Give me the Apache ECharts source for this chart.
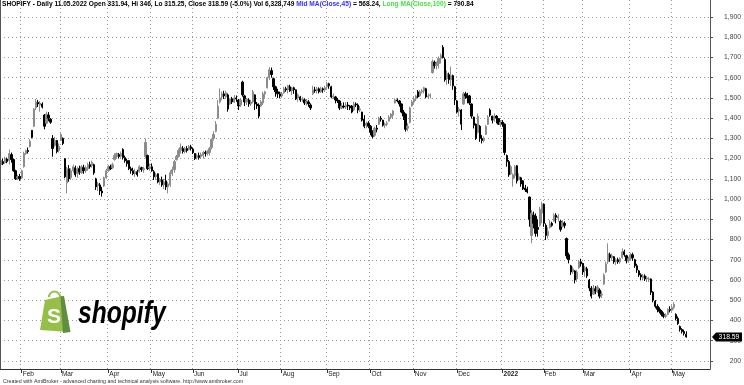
<!DOCTYPE html>
<html><head><meta charset="utf-8">
<script src="https://cdn.jsdelivr.net/npm/echarts/dist/echarts.min.js"></script>
<style>html,body{margin:0;padding:0;background:#fff}#c{width:744px;height:385px}</style>
</head><body><div id="c"></div>
<script>
// Each row: [day of month, open, close, low, high]
const jan2021 = [[15,1170,1190,1152,1201],[19,1185,1175,1168,1201],[20,1180,1200,1175,1209],[21,1198,1185,1177,1205],[22,1190,1225,1170,1245],[25,1220,1195,1180,1230],[26,1195,1140,1135,1201],[27,1140,1100,1094,1145],[28,1105,1110,1094,1120],[29,1112,1100,1090,1125]];
const feb2021 = [[1,1105,1140,1100,1145],[2,1160,1225,1155,1234],[3,1225,1240,1218,1245],[4,1240,1235,1225,1255],[5,1260,1285,1255,1295],[8,1340,1305,1300,1341],[9,1360,1445,1355,1450],[10,1450,1480,1440,1495],[11,1478,1470,1455,1490],[12,1465,1475,1432,1485],[16,1470,1455,1448,1478],[17,1415,1360,1345,1420],[18,1375,1420,1370,1432],[19,1415,1400,1385,1430],[22,1395,1380,1372,1400],[23,1300,1250,1209,1316],[24,1265,1290,1259,1308],[25,1290,1235,1226,1292],[26,1240,1260,1230,1275]];
const mar2021 = [[1,1290,1320,1288,1325],[2,1300,1275,1267,1305],[3,1200,1110,1103,1201],[4,1080,1150,1028,1160],[5,1150,1100,1086,1168],[8,1105,1140,1095,1152],[9,1140,1160,1130,1170],[10,1155,1120,1110,1165],[11,1125,1150,1105,1160],[12,1150,1135,1120,1165],[15,1130,1160,1125,1168],[16,1155,1140,1125,1170],[17,1140,1155,1130,1165],[18,1150,1170,1140,1180],[19,1170,1160,1150,1185],[22,1165,1180,1155,1190],[23,1170,1130,1120,1175],[24,1100,1060,1045,1105],[25,1065,1075,1040,1085],[26,1070,1040,1020,1080],[29,1040,1030,1012,1060],[30,1065,1105,1060,1111],[31,1105,1140,1100,1150]];
const apr2021 = [[1,1140,1160,1135,1168],[5,1160,1150,1144,1170],[6,1155,1170,1150,1180],[7,1195,1215,1190,1226],[8,1210,1225,1200,1230],[9,1220,1210,1200,1228],[12,1212,1225,1205,1235],[13,1245,1205,1195,1251],[14,1205,1190,1180,1215],[15,1190,1175,1160,1200],[16,1190,1150,1143,1193],[19,1150,1140,1125,1160],[20,1140,1125,1118,1155],[21,1125,1135,1110,1150],[22,1135,1120,1111,1145],[23,1135,1160,1130,1168],[26,1155,1145,1135,1160],[27,1145,1150,1130,1160],[28,1210,1280,1201,1300],[29,1215,1150,1143,1220],[30,1155,1160,1140,1175]];
const may2021 = [[3,1160,1140,1135,1176],[4,1135,1110,1094,1143],[5,1110,1120,1095,1130],[6,1125,1085,1078,1127],[7,1085,1095,1070,1105],[10,1095,1070,1061,1111],[11,1070,1085,1050,1100],[12,1090,1060,1045,1120],[13,1060,1075,1028,1085],[14,1070,1130,1061,1143],[17,1125,1145,1115,1160],[18,1145,1185,1130,1193],[19,1195,1210,1190,1218],[20,1210,1240,1205,1250],[21,1240,1255,1225,1275],[24,1250,1235,1225,1262],[25,1235,1250,1226,1258],[26,1250,1240,1230,1262],[27,1245,1260,1240,1267],[28,1258,1250,1240,1268]];
const jun2021 = [[1,1248,1230,1222,1255],[2,1225,1200,1193,1228],[3,1205,1215,1195,1225],[4,1215,1205,1195,1230],[7,1210,1220,1200,1230],[8,1215,1230,1200,1238],[9,1230,1225,1210,1240],[10,1225,1235,1215,1242],[11,1230,1250,1215,1258],[14,1255,1295,1245,1300],[15,1300,1320,1290,1335],[16,1335,1370,1330,1385],[17,1400,1460,1395,1490],[18,1480,1500,1473,1547],[21,1505,1520,1489,1531],[22,1520,1510,1495,1535],[23,1505,1525,1495,1535],[24,1515,1445,1432,1522],[25,1470,1495,1465,1500],[28,1495,1480,1470,1505],[29,1480,1500,1475,1514],[30,1500,1495,1481,1512]];
const jul2021 = [[1,1490,1460,1440,1495],[2,1465,1490,1455,1500],[6,1578,1515,1506,1585],[7,1510,1480,1460,1515],[8,1480,1495,1465,1500],[9,1490,1470,1456,1498],[12,1470,1480,1460,1490],[13,1480,1530,1473,1539],[14,1515,1470,1440,1518],[15,1470,1460,1445,1480],[16,1465,1410,1399,1473],[19,1460,1480,1456,1489],[20,1475,1520,1465,1531],[21,1520,1530,1500,1535],[22,1550,1600,1547,1605],[23,1600,1640,1588,1652],[26,1635,1615,1600,1650],[27,1595,1555,1539,1600],[28,1555,1530,1506,1560],[29,1530,1520,1500,1545],[30,1520,1510,1498,1531]];
const aug2021 = [[2,1510,1520,1500,1530],[3,1525,1545,1520,1555],[4,1545,1540,1530,1555],[5,1540,1560,1522,1565],[6,1555,1535,1530,1565],[9,1535,1550,1514,1555],[10,1550,1540,1520,1555],[11,1540,1495,1489,1542],[12,1500,1515,1481,1522],[13,1505,1490,1481,1510],[16,1490,1495,1480,1505],[17,1490,1475,1465,1498],[18,1475,1485,1462,1495],[19,1480,1470,1456,1489],[20,1465,1450,1440,1473],[23,1520,1540,1514,1560],[24,1540,1535,1525,1555],[25,1535,1545,1522,1555],[26,1545,1530,1522,1552],[27,1530,1545,1525,1555],[30,1545,1540,1525,1552],[31,1540,1550,1530,1560]];
const sep2021 = [[1,1555,1570,1540,1580],[2,1570,1560,1545,1575],[3,1555,1505,1498,1560],[7,1505,1510,1495,1522],[8,1505,1490,1473,1510],[9,1490,1485,1475,1500],[10,1485,1450,1440,1489],[13,1450,1460,1445,1475],[14,1460,1455,1448,1478],[15,1455,1465,1445,1480],[16,1465,1460,1440,1480],[17,1460,1450,1440,1465],[20,1460,1430,1424,1465],[21,1440,1470,1435,1481],[22,1470,1465,1455,1478],[23,1465,1440,1424,1473],[24,1440,1445,1430,1460],[27,1430,1390,1383,1432],[28,1395,1360,1350,1415],[29,1365,1375,1350,1383],[30,1375,1360,1350,1385]];
const oct2021 = [[1,1360,1330,1315,1366],[4,1330,1310,1300,1340],[5,1315,1350,1308,1358],[6,1350,1345,1330,1366],[7,1370,1400,1366,1407],[8,1400,1395,1383,1410],[11,1390,1365,1358,1392],[12,1365,1370,1350,1378],[13,1370,1375,1360,1385],[14,1385,1405,1383,1415],[15,1405,1420,1395,1425],[18,1415,1435,1399,1440],[19,1475,1490,1473,1498],[20,1490,1485,1478,1498],[21,1485,1470,1457,1490],[22,1470,1430,1424,1473],[25,1430,1410,1391,1440],[26,1420,1345,1333,1424],[27,1350,1360,1335,1375],[28,1380,1450,1374,1457],[29,1460,1480,1457,1490]];
const nov2021 = [[1,1480,1495,1470,1506],[2,1495,1510,1485,1515],[3,1530,1505,1498,1539],[4,1510,1530,1505,1540],[5,1530,1535,1522,1545],[8,1535,1550,1522,1555],[9,1545,1505,1498,1550],[10,1505,1510,1495,1522],[11,1510,1515,1498,1522],[12,1625,1680,1620,1690],[15,1675,1660,1645,1685],[16,1660,1670,1640,1680],[17,1670,1695,1645,1705],[18,1695,1710,1670,1720],[19,1750,1700,1695,1761],[22,1690,1590,1580,1700],[23,1595,1620,1564,1635],[24,1615,1590,1570,1625],[26,1590,1610,1560,1655],[29,1610,1560,1540,1615],[30,1555,1490,1465,1560]];
const dec2021 = [[1,1485,1430,1423,1490],[2,1435,1445,1407,1456],[3,1440,1370,1341,1445],[6,1470,1520,1465,1530],[7,1520,1510,1495,1530],[8,1510,1500,1473,1525],[9,1510,1475,1465,1515],[10,1470,1410,1398,1473],[13,1405,1365,1349,1407],[14,1370,1300,1292,1374],[15,1330,1410,1324,1423],[16,1360,1300,1283,1366],[17,1300,1290,1275,1316],[20,1290,1300,1280,1310],[21,1320,1360,1316,1366],[22,1370,1405,1366,1415],[23,1440,1415,1407,1448],[27,1410,1390,1374,1412],[28,1390,1410,1382,1423],[29,1410,1400,1374,1415],[30,1398,1370,1366,1400],[31,1370,1380,1357,1390]];
const jan2022 = [[3,1380,1370,1357,1390],[4,1370,1230,1217,1374],[5,1215,1185,1160,1220],[6,1185,1120,1110,1193],[7,1125,1160,1119,1168],[10,1100,1120,1061,1127],[11,1115,1160,1102,1168],[12,1165,1090,1077,1168],[13,1095,1110,1094,1127],[14,1105,1075,1061,1110],[18,1090,1050,1045,1094],[19,1055,1045,1035,1070],[20,1050,1035,1028,1061],[21,1010,900,863,1012],[24,820,930,781,946],[25,920,880,855,938],[26,915,830,814,929],[27,860,850,814,900],[28,870,950,863,962],[31,930,975,880,987]];
const feb2022 = [[1,975,880,863,979],[2,870,820,797,880],[3,820,840,805,860],[4,860,880,855,896],[7,880,870,863,888],[8,890,920,888,929],[9,920,910,880,930],[10,905,915,890,925],[11,890,850,839,896],[14,865,885,860,896],[15,880,870,855,890],[16,805,720,705,810],[17,725,700,682,735],[18,670,640,625,675],[22,640,655,630,666],[23,645,600,583,649],[24,605,640,590,650],[25,660,690,655,699],[28,690,680,666,705]];
const mar2022 = [[1,682,640,625,685],[2,645,660,616,670],[3,655,620,610,665],[4,600,560,545,605],[7,560,520,509,570],[8,530,560,526,575],[9,555,545,530,570],[10,545,565,535,575],[11,550,520,509,559],[14,525,530,510,545],[15,580,625,575,633],[16,640,680,635,691],[17,690,730,680,781],[18,725,710,690,735],[21,710,720,695,730],[22,715,690,680,718],[23,690,700,674,707],[24,700,690,680,710],[25,690,705,680,712],[28,710,740,705,756],[29,740,725,715,750],[30,720,695,682,725],[31,695,705,685,715]];
const apr2022 = [[1,705,725,695,735],[4,725,710,695,735],[5,700,670,660,705],[6,670,650,635,680],[7,645,625,615,650],[8,625,615,600,633],[11,610,620,598,630],[12,620,605,595,628],[13,605,610,590,620],[14,600,605,590,615],[18,605,540,526,608],[19,540,500,490,545],[20,495,470,460,501],[21,470,455,440,480],[22,455,445,435,465],[25,445,430,420,452],[26,430,420,411,440],[27,420,425,411,435],[28,430,455,425,460],[29,455,450,440,470]];
const may2022 = [[2,450,465,443,475],[3,465,480,455,490],[4,430,410,400,435],[5,410,385,378,420],[6,370,355,345,375],[9,355,345,335,362],[10,345,335.4,325,355],[11,331.94,318.59,315.25,346]];
// empty trading days after the last bar (right margin of the chart)
const blankDays2022_05 = [12,13,16,17,18,19,20,23,24,25,26];
const yTicks = [200,300,400,500,600,700,800,900,1000,1100,1200,1300,1400,1500,1600,1700,1800,1900];
const monthNames = ['Jan','Feb','Mar','Apr','May','Jun','Jul','Aug','Sep','Oct','Nov','Dec'];
const volumeText = '6,328,749';
const midMA = '568.24', longMA = '790.84';

const months = [['2021-01',jan2021],['2021-02',feb2021],['2021-03',mar2021],['2021-04',apr2021],['2021-05',may2021],['2021-06',jun2021],['2021-07',jul2021],['2021-08',aug2021],['2021-09',sep2021],['2021-10',oct2021],['2021-11',nov2021],['2021-12',dec2021],['2022-01',jan2022],['2022-02',feb2022],['2022-03',mar2022],['2022-04',apr2022],['2022-05',may2022]];
const pad = d => (d < 10 ? '0' : '') + d;
const categories = [], ohlc = [];
months.forEach(([ym, rows]) => rows.forEach(r => { categories.push(ym + '-' + pad(r[0])); ohlc.push([r[1], r[2], r[3], r[4]]); }));
blankDays2022_05.forEach(d => categories.push('2022-05-' + pad(d)));

const isMonthStart = i => i > 0 && categories[i].slice(0, 7) !== categories[i - 1].slice(0, 7);
const FONT = '"Liberation Sans", Arial, sans-serif';
const grid = { left: 0, right: 33, top: 0, bottom: 16 };
const dotted = { color: '#9a9a9a', width: 1, type: [1, 3] };
const last = ohlc[ohlc.length - 1], prevClose = ohlc[ohlc.length - 2][1];
const pct = ((last[1] / prevClose - 1) * 100).toFixed(1);
const lastDate = categories[ohlc.length - 1].split('-');
const fmt = v => String(v).replace(/\B(?=(\d{3})+(?!\d))/g, ',');
const TS = 6.6;

const chart = echarts.init(document.getElementById('c'), null, { renderer: 'canvas' });
chart.setOption({
  animation: false,
  backgroundColor: '#fff',
  grid: grid,
  title: {
    left: 2, top: 1, padding: 0,
    text: '{k|SHOPIFY - Daily ' + lastDate[2] + '.' + lastDate[1] + '.' + lastDate[0] + ' Open ' + last[0] + ', Hi ' + last[3] + ', Lo ' + last[2] + ', Close ' + last[1] + ' (' + pct + '%) Vol ' + volumeText + ' }{b|Mid MA(Close,45)}{k| = ' + midMA + ', }{g|Long MA(Close,100)}{k| = ' + longMA + '}',
    textStyle: { fontSize: TS, fontFamily: FONT, rich: {
      k: { color: '#000', fontSize: TS, fontFamily: FONT },
      b: { color: '#3333ff', fontSize: TS, fontFamily: FONT },
      g: { color: '#44e044', fontSize: TS, fontFamily: FONT }
    } }
  },
  xAxis: {
    type: 'category', data: categories, boundaryGap: true,
    axisLine: { show: true, lineStyle: { color: '#333', width: 1 } },
    axisTick: { show: true, interval: isMonthStart, alignWithLabel: true, length: 4, lineStyle: { color: '#333' } },
    axisLabel: {
      interval: isMonthStart, align: 'left', margin: 2, fontSize: 6.5, fontFamily: FONT, color: '#222', padding: [0, 0, 0, 1],
      formatter: (v) => { const p = v.split('-'); return p[1] === '01' ? '{y|' + p[0] + '}' : monthNames[+p[1] - 1]; },
      rich: { y: { fontWeight: 'bold', fontSize: 6.5, fontFamily: FONT, color: '#222' } }
    },
    splitLine: { show: true, interval: isMonthStart, lineStyle: dotted }
  },
  yAxis: {
    type: 'value', position: 'right', min: 160, max: 1984,
    axisLine: { show: true, lineStyle: { color: '#555' } },
    axisTick: { show: true, length: 3, customValues: yTicks, lineStyle: { color: '#555' } },
    axisLabel: { customValues: yTicks, formatter: fmt, color: '#444', fontSize: 6.8, fontFamily: FONT, align: 'right', margin: 31 },
    splitLine: { show: true, lineStyle: dotted }
  },
  series: [{
    type: 'candlestick', data: ohlc, barWidth: 1.8,
    itemStyle: { color: '#8c8c8c', color0: '#000', borderColor: '#8c8c8c', borderColor0: '#000', borderWidth: 1 }
  }]
});

const yLast = chart.convertToPixel({ yAxisIndex: 0 }, last[1]);
const xr = 744 - grid.right;
chart.setOption({
  graphic: [
    { type: 'line', shape: { x1: 0.5, y1: 0, x2: 0.5, y2: 369 }, style: { stroke: '#555', lineWidth: 1 }, z: 10 },
    { type: 'polygon', shape: { points: [[xr + 1, yLast], [xr + 5, yLast - 4.5], [xr + 31, yLast - 4.5], [xr + 31, yLast + 4.5], [xr + 5, yLast + 4.5]] }, style: { fill: '#000' }, z: 20 },
    { type: 'text', x: xr + 18, y: yLast, style: { text: String(last[1]), fill: '#fff', font: '6.8px ' + FONT, align: 'center', verticalAlign: 'middle' }, z: 21 },
    { type: 'text', x: 3, y: 381.5, style: { text: 'Created with AmiBroker - advanced charting and technical analysis software. http://www.amibroker.com', fill: '#333', font: '5.25px ' + FONT, verticalAlign: 'middle' }, z: 20 },
    // Shopify logo
    { type: 'arc', shape: { cx: 54.5, cy: 297, r: 5.5, startAngle: Math.PI, endAngle: Math.PI * 2 }, style: { stroke: '#95bf47', lineWidth: 2, fill: null }, z: 20 },
    { type: 'polygon', shape: { points: [[45, 300], [63, 296], [69, 332], [40, 330]] }, style: { fill: '#95bf47' }, z: 20 },
    { type: 'polygon', shape: { points: [[60.5, 296.6], [64, 296], [70.5, 332], [63, 333]] }, style: { fill: '#5e8e3e' }, z: 21 },
    { type: 'text', x: 54, y: 317, style: { text: 'S', fill: '#fff', font: 'bold 21px ' + FONT, align: 'center', verticalAlign: 'middle' }, z: 22 },
    { type: 'text', x: 78, y: 314, scaleX: 0.77, style: { text: 'shopify', fill: '#000', font: 'italic bold 32px ' + FONT, verticalAlign: 'middle' }, z: 22 }
  ]
});
</script>
</body></html>
